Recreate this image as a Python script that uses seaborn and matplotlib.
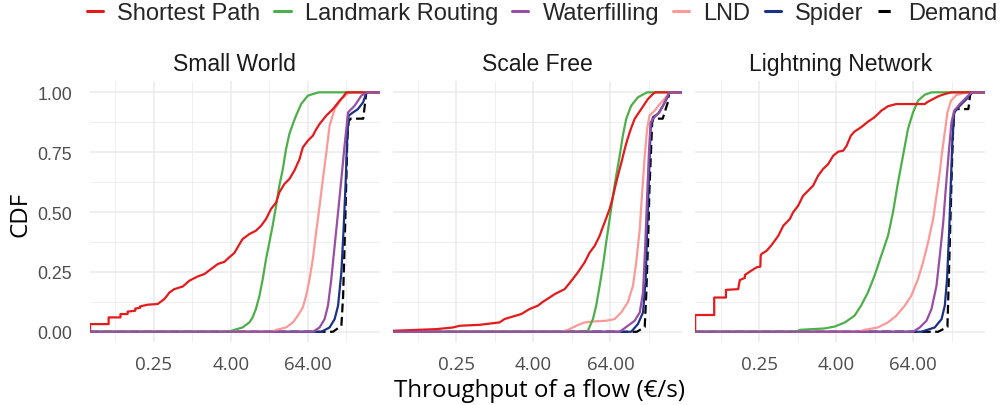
import matplotlib
matplotlib.use("Agg")
import matplotlib.pyplot as plt
import matplotlib.ticker as mticker
from matplotlib.lines import Line2D
import seaborn as sns

# CDF of per-flow throughput (EUR/s).
# Each list holds (throughput, CDF) points; a throughput of 0 means flows that got nothing.
networks = ["Small World", "Scale Free", "Lightning Network"]
algorithms = ["Shortest Path", "Landmark Routing", "Waterfilling", "LND", "Spider", "Demand"]

sw_shortest = [(0, 0.032), (0.049, 0.032), (0.049, 0.060), (0.075, 0.060), (0.075, 0.074),
               (0.097, 0.074), (0.097, 0.084), (0.128, 0.088), (0.128, 0.097), (0.152, 0.100),
               (0.152, 0.106), (0.200, 0.113), (0.287, 0.116), (0.366, 0.137), (0.438, 0.164),
               (0.521, 0.178), (0.707, 0.189), (0.895, 0.213), (1.21, 0.231), (1.54, 0.241),
               (1.96, 0.262), (2.50, 0.283), (3.16, 0.292), (3.78, 0.311), (4.53, 0.329),
               (4.92, 0.345), (5.45, 0.366), (6.10, 0.387), (7.78, 0.408), (9.85, 0.422),
               (11.9, 0.443), (14.2, 0.471), (17.0, 0.513), (20.4, 0.540), (22.9, 0.582),
               (27.5, 0.617), (32.9, 0.638), (39.4, 0.673), (47.5, 0.721), (50.2, 0.745),
               (53.4, 0.770), (64.0, 0.798), (76.6, 0.819), (86.2, 0.845), (97.7, 0.868),
               (124.5, 0.903), (158, 0.930), (201, 0.965), (226, 0.980), (256, 1.0)]
sw_landmark = [(3.7, 0.0), (4.53, 0.008), (6.10, 0.018), (7.78, 0.039), (8.75, 0.060), (9.85, 0.095),
               (11.2, 0.150), (12.6, 0.220), (14.2, 0.304), (16.0, 0.373), (18.0, 0.443),
               (20.4, 0.526), (22.9, 0.610), (26.0, 0.680), (29.2, 0.763), (32.9, 0.826),
               (37.3, 0.868), (41.9, 0.903), (50.2, 0.951), (64.0, 0.986), (86.2, 0.997), (97.0, 1.0)]
sw_waterfill = [(76.6, 0.0), (97.7, 0.018), (117, 0.053), (132, 0.109), (149, 0.220), (168, 0.359),
                (190, 0.499), (214, 0.638), (240, 0.777), (272, 0.916), (345, 0.944), (440, 0.986),
                (526, 1.0)]
sw_lnd = [(18.4, 0.0), (20.4, 0.008), (29.2, 0.018), (37.3, 0.039), (44.6, 0.067), (53.4, 0.102),
          (60.1, 0.150), (68.1, 0.220), (76.6, 0.304), (86.2, 0.415), (97.7, 0.526), (110, 0.638),
          (124.5, 0.749), (140, 0.861), (168, 0.930), (214, 0.972), (272, 0.996), (294, 1.0)]
sw_spider = [(104, 0.0), (140, 0.018), (168, 0.053), (190, 0.109), (214, 0.248), (232, 0.429),
             (251, 0.638), (261, 0.777), (278, 0.903), (326, 0.916), (388, 0.930), (468, 0.958),
             (530, 1.0)]
sw_demand = [(158, 0.0), (214, 0.025), (228, 0.150), (240, 0.360), (256, 0.638), (265, 0.805),
             (278, 0.880), (300, 0.890), (470, 0.890), (500, 0.950), (526, 1.0)]

sf_shortest = [(0, 0.004), (0.121, 0.011), (0.221, 0.018), (0.279, 0.025), (0.574, 0.029),
               (1.18, 0.039), (1.41, 0.053), (1.92, 0.064), (2.58, 0.074), (3.48, 0.095),
               (4.69, 0.109), (5.62, 0.125), (7.16, 0.143), (8.57, 0.157), (12.3, 0.178),
               (15.7, 0.213), (19.8, 0.248), (25.3, 0.290), (30.3, 0.331), (36.3, 0.359),
               (43.4, 0.401), (47.5, 0.430), (52.0, 0.457), (56.9, 0.485), (62.2, 0.513),
               (68.1, 0.550), (74.5, 0.596), (81.6, 0.640), (89.3, 0.680), (97.7, 0.720),
               (107, 0.763), (117, 0.800), (128, 0.833), (140, 0.862), (153, 0.889),
               (194, 0.930), (247, 0.972), (296, 0.993), (320, 1.0)]
sf_landmark = [(25.0, 0.0), (28.4, 0.004), (34.1, 0.053), (38.3, 0.109), (43.4, 0.192), (48.8, 0.276),
               (54.9, 0.373), (62.2, 0.471), (70.0, 0.568), (78.8, 0.652), (89.3, 0.735),
               (100, 0.819), (113, 0.889), (135, 0.944), (172, 0.979), (218, 0.994), (240, 1.0)]
sf_waterfill = [(89.3, 0.0), (120, 0.025), (153, 0.046), (184, 0.081), (207, 0.164), (224, 0.359),
                (240, 0.568), (256, 0.749), (272, 0.875), (313, 0.896), (375, 0.916), (449, 0.958),
                (530, 1.0)]
sf_lnd = [(11.0, 0.0), (13.8, 0.008), (19.8, 0.028), (25.3, 0.039), (34.1, 0.043), (54.9, 0.046),
          (74.5, 0.053), (94.4, 0.081), (120, 0.123), (144, 0.192), (162, 0.290), (184, 0.429),
          (199, 0.568), (220, 0.735), (240, 0.847), (261, 0.903), (313, 0.923), (399, 0.958),
          (508, 0.989), (530, 1.0)]
sf_spider = [(135, 0.0), (172, 0.032), (207, 0.081), (228, 0.220), (240, 0.429), (256, 0.638),
             (272, 0.847), (296, 0.896), (355, 0.910), (425, 0.944), (508, 0.983), (530, 1.0)]
sf_demand = [(166, 0.0), (220, 0.020), (232, 0.150), (247, 0.360), (261, 0.596), (278, 0.777),
             (288, 0.875), (300, 0.890), (420, 0.890), (508, 0.960), (530, 1.0)]

ln_shortest = [(0, 0.070), (0.0497, 0.070), (0.0497, 0.143), (0.0759, 0.143), (0.0759, 0.175),
               (0.118, 0.178), (0.125, 0.216), (0.150, 0.225), (0.150, 0.237), (0.179, 0.251),
               (0.228, 0.269), (0.262, 0.272), (0.265, 0.318), (0.273, 0.325), (0.328, 0.338),
               (0.392, 0.362), (0.5, 0.401), (0.599, 0.443), (0.758, 0.471), (0.853, 0.499),
               (1.02, 0.526), (1.22, 0.568), (1.46, 0.589), (1.75, 0.610), (2.10, 0.652),
               (2.51, 0.680), (3.01, 0.700), (3.61, 0.735), (4.32, 0.752), (5.17, 0.756),
               (5.86, 0.777), (6.82, 0.819), (7.78, 0.836), (9.85, 0.854), (12.6, 0.877),
               (16.0, 0.896), (20.4, 0.923), (26.0, 0.942), (35.0, 0.951), (97.7, 0.951),
               (110, 0.961), (132, 0.972), (158, 0.983), (201, 0.993), (256, 1.0)]
ln_landmark = [(0.95, 0.0), (1.09, 0.008), (2.68, 0.014), (3.84, 0.022), (5.50, 0.039), (7.78, 0.067),
               (9.85, 0.109), (12.6, 0.164), (16.0, 0.234), (20.4, 0.318), (26.0, 0.401),
               (31.1, 0.499), (37.3, 0.624), (44.6, 0.735), (53.4, 0.847), (64.0, 0.916),
               (76.6, 0.965), (97.7, 0.990), (124.5, 1.0)]
ln_waterfill = [(64.0, 0.0), (81.6, 0.018), (104, 0.046), (124.5, 0.095), (149, 0.192), (168, 0.318),
                (190, 0.457), (208, 0.596), (232, 0.749), (256, 0.875), (282, 0.923), (345, 0.951),
                (440, 0.979), (526, 1.0)]
ln_lnd = [(9.0, 0.0), (11.2, 0.008), (18.0, 0.018), (26.0, 0.039), (35.0, 0.067), (47.5, 0.109),
          (60.1, 0.150), (76.6, 0.220), (91.8, 0.290), (110, 0.373), (132, 0.471), (149, 0.568),
          (168, 0.666), (182, 0.749), (201, 0.833), (221, 0.916), (251, 0.965), (306, 0.989),
          (391, 0.996), (420, 1.0)]
ln_spider = [(86.2, 0.0), (140, 0.018), (179, 0.053), (201, 0.109), (218, 0.220), (236, 0.429),
             (251, 0.638), (265, 0.805), (282, 0.916), (345, 0.944), (440, 0.972), (526, 1.0)]
ln_demand = [(158, 0.0), (221, 0.020), (232, 0.220), (244, 0.430), (256, 0.638), (269, 0.819),
             (282, 0.916), (300, 0.930), (470, 0.930), (498, 0.986), (526, 1.0)]

curves = {
    "Small World": dict(zip(algorithms, [sw_shortest, sw_landmark, sw_waterfill, sw_lnd, sw_spider, sw_demand])),
    "Scale Free": dict(zip(algorithms, [sf_shortest, sf_landmark, sf_waterfill, sf_lnd, sf_spider, sf_demand])),
    "Lightning Network": dict(zip(algorithms, [ln_shortest, ln_landmark, ln_waterfill, ln_lnd, ln_spider, ln_demand])),
}

colors = {"Shortest Path": "#E41A1C", "Landmark Routing": "#4DAF4A", "Waterfilling": "#984EA3",
          "LND": "#FB9A99", "Spider": "#1A3185", "Demand": "black"}
dash = (0, (4, 2))

sns.set_theme(style="white")
plt.rcParams["font.family"] = ["Liberation Sans", "DejaVu Sans"]

fig, axes = plt.subplots(1, 3, figsize=(10.02, 4.06), dpi=100, sharex=True, sharey=True)
fig.subplots_adjust(left=90 / 1002, right=985 / 1002, top=1 - 82.3 / 406, bottom=1 - 343.3 / 406,
                    wspace=0.044)

x_lo, x_hi = 2 ** -5.32, 2 ** 9.74
draw_order = ["Demand", "Spider", "LND", "Landmark Routing", "Shortest Path", "Waterfilling"]

for ax, net in zip(axes, networks):
    ax.set_xscale("log", base=2)
    for alg in draw_order:
        pts = curves[net][alg]
        # pad like stat_ecdf: start at 0 on the left edge, end at 1 on the right edge
        xs = [x_lo] + [max(v, x_lo) for v, c in pts] + [x_hi]
        ys = [0.0] + [c for v, c in pts] + [1.0]
        sns.lineplot(x=xs, y=ys, ax=ax, color=colors[alg], lw=1.6, estimator=None, sort=False,
                     linestyle=dash if alg == "Demand" else "-")
    ax.set_xlim(x_lo, x_hi)
    ax.set_ylim(-0.044, 1.046)
    ax.set_xticks([0.25, 4, 64], ["0.25", "4.00", "64.00"], fontfamily="Open Sans",
                  fontsize=13.5, color="#4D4D4D")
    ax.set_xticks([1 / 16, 1, 16, 256], minor=True)
    ax.xaxis.set_minor_formatter(mticker.NullFormatter())
    ax.set_yticks([0, 0.25, 0.5, 0.75, 1.0], ["0.00", "0.25", "0.50", "0.75", "1.00"])
    ax.set_yticks([0.125, 0.375, 0.625, 0.875], minor=True)
    ax.grid(True, which="major", color="#EBEBEB", lw=1.1)
    ax.grid(True, which="minor", color="#EBEBEB", lw=0.55)
    ax.set_axisbelow(True)
    ax.tick_params(which="both", length=0)
    ax.tick_params(axis="y", pad=13, labelsize=12.8, labelcolor="#4D4D4D")
    ax.tick_params(axis="x", pad=9)
    for s in ax.spines.values():
        s.set_visible(False)
    ax.set_title(net, fontsize=16.5, color="#1A1A1A", pad=8)
    ax.set_xlabel("")
    ax.set_ylabel("")

fig.text(539 / 1002, 1 - 396.7 / 406, "Throughput of a flow (€/s)", ha="center", va="baseline",
         fontsize=17.4, family="Open Sans", color="black")
fig.text(21 / 1002, 1 - 214 / 406, "CDF", ha="center", va="center", rotation=90,
         fontsize=17.4, family="Open Sans", color="black")

handles = [Line2D([], [], color=colors[a], lw=2.2, linestyle=dash if a == "Demand" else "-")
           for a in algorithms]
fig.legend(handles, algorithms, loc="center", bbox_to_anchor=(542 / 1002, 1 - 14 / 406), ncol=6,
           frameon=False, fontsize=17, handlelength=0.68, handletextpad=0.6, columnspacing=0.6,
           borderpad=0, borderaxespad=0)

fig.savefig("out.png", dpi=100)
